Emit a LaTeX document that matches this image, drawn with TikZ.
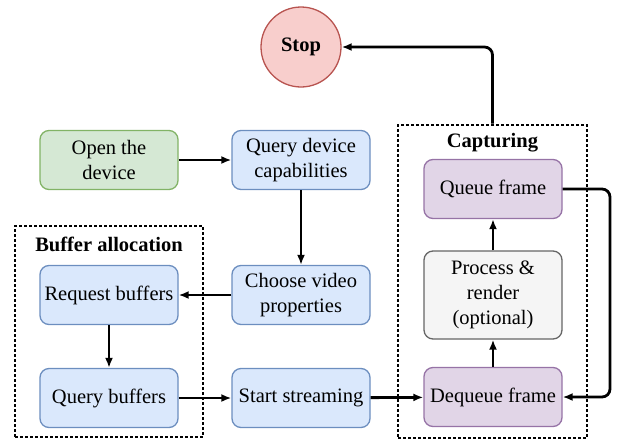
\documentclass[tikz,border=0pt]{standalone}
\usepackage{fontspec}
\setmainfont{Liberation Serif}
\usetikzlibrary{arrows.meta}

\definecolor{greenfill}{HTML}{D5E8D4}
\definecolor{greenline}{HTML}{82B366}
\definecolor{bluefill}{HTML}{DAE8FC}
\definecolor{blueline}{HTML}{6C8EBF}
\definecolor{purplefill}{HTML}{E1D5E7}
\definecolor{purpleline}{HTML}{9673A6}
\definecolor{grayfill}{HTML}{F5F5F5}
\definecolor{grayline}{HTML}{666666}
\definecolor{redfill}{HTML}{F8CECC}
\definecolor{redline}{HTML}{B85450}

\tikzset{
  stepbox/.style={rounded corners=9pt, line width=1.3pt, minimum width=138pt,
    minimum height=59pt, align=center, inner sep=2pt,
    font=\fontsize{20.5}{25}\selectfont},
  bluebox/.style={stepbox, draw=blueline, fill=bluefill},
  greenbox/.style={stepbox, draw=greenline, fill=greenfill},
  purplebox/.style={stepbox, draw=purpleline, fill=purplefill},
  graybox/.style={stepbox, draw=grayline, fill=grayfill, minimum height=88pt},
  groupbox/.style={draw, line width=2.6pt, dash pattern=on 2.6pt off 2.4pt},
  grouplabel/.style={font=\fontsize{20.5}{25}\selectfont\bfseries, anchor=north},
  flow/.style={-{Latex[length=10pt,width=8pt]}, line width=2.8pt, rounded corners=8pt}
}

\begin{document}
\begin{tikzpicture}[x=1pt,y=-1pt]
            \useasboundingbox (0,0) rectangle (619,440);
            % groups
            \node[groupbox, minimum width=188pt, minimum height=211pt] (bufgroup) at (109,331.5) {};
            \node[grouplabel] at ([yshift=-9pt]bufgroup.north) {Buffer allocation};
            \node[groupbox, minimum width=189pt, minimum height=313pt] (capgroup) at (492.5,281.5) {};
            \node[grouplabel] at ([yshift=-6pt]capgroup.north) {Capturing};
            % steps
            \node[circle, draw=redline, fill=redfill, line width=1.3pt, minimum size=80pt,
                  font=\fontsize{20.5}{25}\selectfont\bfseries] (stop) at (301,47) {Stop};
            \node[greenbox] (open) at (109,160) {Open the\\device};
            \node[bluebox] (querydev) at (301,160) {Query device\\capabilities};
            \node[bluebox] (choose) at (301,295) {Choose video\\properties};
            \node[bluebox] (request) at (109,295) {Request buffers};
            \node[bluebox] (querybuf) at (109,398) {Query buffers};
            \node[bluebox] (start) at (301,398) {Start streaming};
            \node[purplebox] (queue) at (493,189) {Queue frame};
            \node[graybox] (process) at (493,295) {Process \&\\render\\(optional)};
            \node[purplebox] (dequeue) at (493,397) {Dequeue frame};
            \coordinate (loop) at (610,189);
            % connectors
            \draw[flow] (open) -- (querydev);
            \draw[flow] (querydev) -- (choose);
            \draw[flow] (choose) -- (request);
            \draw[flow] (request) -- (querybuf);
            \draw[flow] (querybuf) -- (start);
            \draw[flow] (start) -- (dequeue);
            \draw[flow] (dequeue) -- (process);
            \draw[flow] (process) -- (queue);
            \draw[flow] (queue) -- (loop) |- (dequeue);
            \draw[flow] (capgroup.north) |- (stop);
        \end{tikzpicture}
\end{document}
